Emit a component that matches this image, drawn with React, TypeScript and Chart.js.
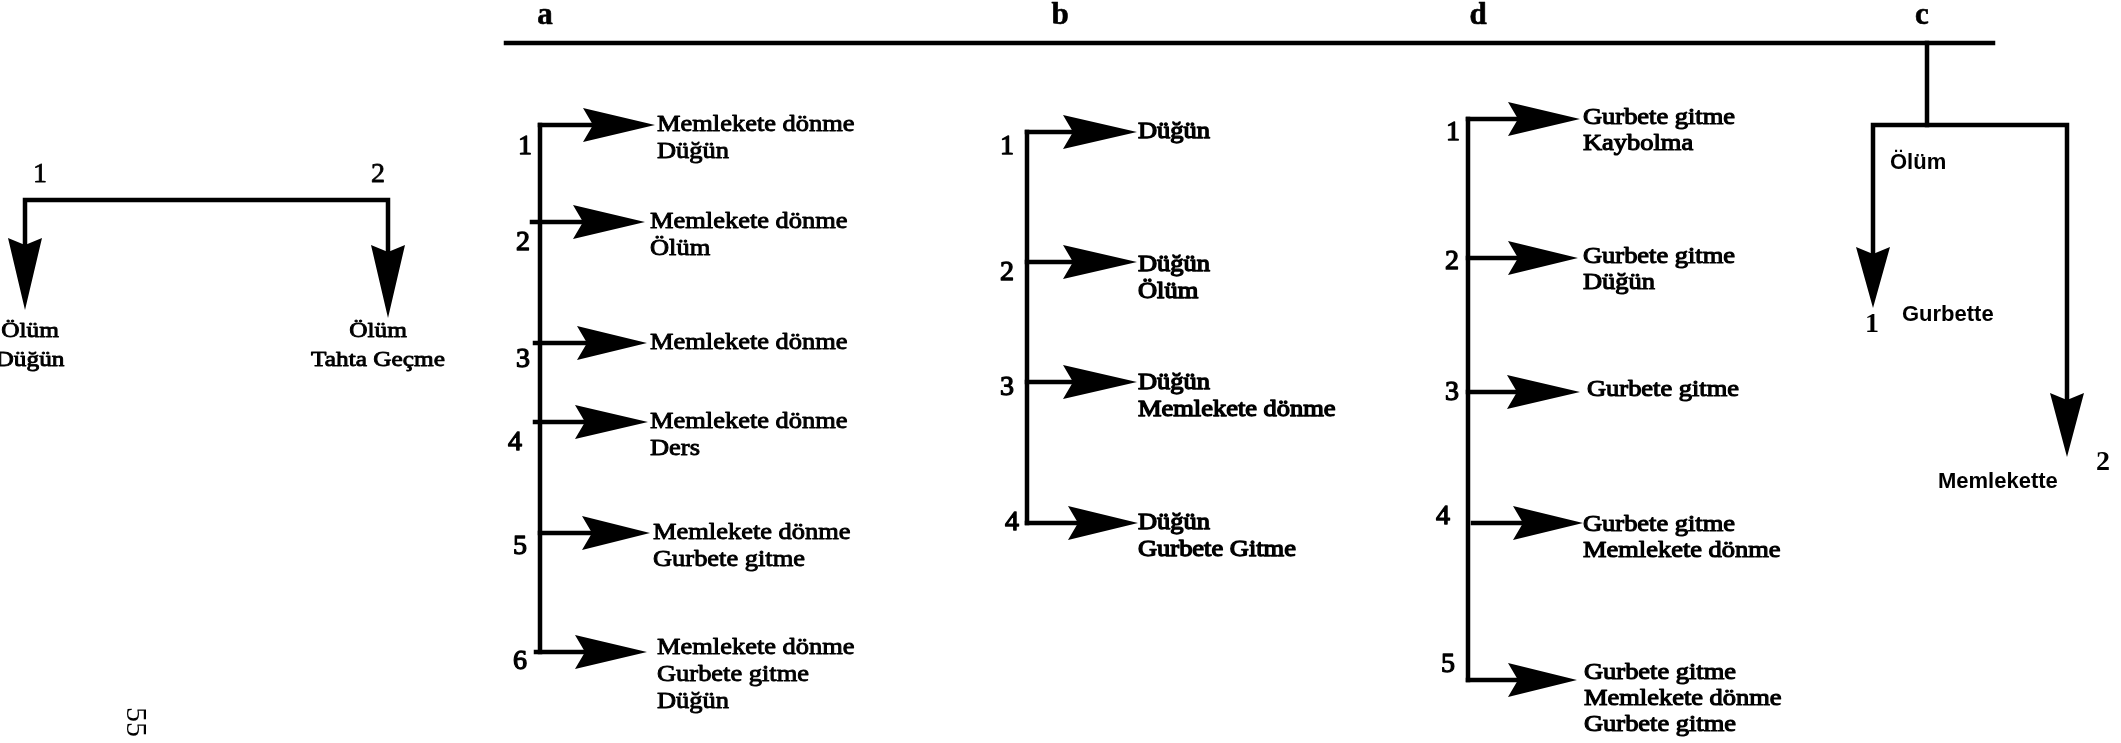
import React, { useEffect, useRef } from "react";
import { Chart, registerables } from "chart.js";

Chart.register(...registerables);

const W = 2121;
const H = 743;

const SERIF = "'Liberation Serif', 'Times New Roman', serif";
const SANS = "'Liberation Sans', Arial, sans-serif";

// ---- header ----
const HEADER_LABELS = ["a", "b", "d", "c"];
const HEADER_LABEL_X = [545, 1060, 1478, 1922];
const HEADER_LABEL_Y = 16;
const HEADER_LINE_X = [506, 1993];
const HEADER_LINE_Y = 43;

// ---- group a ----
const A_SPINE_X = 540;
const A_NUMS = ["1", "2", "3", "4", "5", "6"];
const A_BRANCH_Y = [125, 222, 343, 422, 533, 652];
const A_BRANCH_START_X = [540, 532, 535, 535, 540, 536];
const A_ARROW_BASE_X = [583, 573, 577, 575, 582, 575];
const A_ARROW_TIP_X = [655, 645, 647, 648, 650, 647];
const A_TEXT_X = [657, 650, 650, 650, 653, 657];
const A_TEXT_Y = [125, 222, 343, 422, 533, 648];
const A_NUM_X = [525, 523, 523, 515, 520, 520];
const A_NUM_Y = [147, 243, 360, 443, 547, 662];
const A_TEXTS = [
  ["Memlekete dönme", "Düğün"],
  ["Memlekete dönme", "Ölüm"],
  ["Memlekete dönme"],
  ["Memlekete dönme", "Ders"],
  ["Memlekete dönme", "Gurbete gitme"],
  ["Memlekete dönme", "Gurbete gitme", "Düğün"],
];

// ---- group b ----
const B_SPINE_X = 1027;
const B_NUMS = ["1", "2", "3", "4"];
const B_BRANCH_Y = [132, 262, 382, 523];
const B_BRANCH_START_X = [1027, 1027, 1027, 1027];
const B_ARROW_BASE_X = [1063, 1063, 1063, 1068];
const B_ARROW_TIP_X = [1137, 1137, 1137, 1138];
const B_TEXT_X = [1138, 1138, 1138, 1138];
const B_TEXT_Y = [132, 265, 383, 523];
const B_NUM_X = [1007, 1007, 1007, 1012];
const B_NUM_Y = [147, 273, 388, 523];
const B_TEXTS = [
  ["Düğün"],
  ["Düğün", "Ölüm"],
  ["Düğün", "Memlekete dönme"],
  ["Düğün", "Gurbete Gitme"],
];

// ---- group d ----
const D_SPINE_X = 1468;
const D_NUMS = ["1", "2", "3", "4", "5"];
const D_BRANCH_Y = [119, 258, 392, 523, 680];
const D_BRANCH_START_X = [1468, 1468, 1468, 1473, 1468];
const D_ARROW_BASE_X = [1508, 1508, 1507, 1513, 1508];
const D_ARROW_TIP_X = [1580, 1578, 1580, 1583, 1577];
const D_TEXT_X = [1583, 1583, 1587, 1583, 1584];
const D_TEXT_Y = [118, 257, 390, 525, 673];
const D_NUM_X = [1453, 1452, 1452, 1443, 1448];
const D_NUM_Y = [133, 262, 393, 517, 665];
const D_TEXTS = [
  ["Gurbete gitme", "Kaybolma"],
  ["Gurbete gitme", "Düğün"],
  ["Gurbete gitme"],
  ["Gurbete gitme", "Memlekete dönme"],
  ["Gurbete gitme", "Memlekete dönme", "Gurbete gitme"],
];

// ---- group c ----
const C_STEM_X = 1927;
const C_BAR_Y = 125;
const C_DROP_X = [1873, 2067];
const C_ARROW_BASE_Y = [247, 393];
const C_ARROW_TIP_Y = [308, 457];
const C_TEXTS = ["Ölüm", "Gurbette", "Memlekette"];
const C_TEXT_X = [1890, 1902, 1938];
const C_TEXT_Y = [163, 315, 482];
const C_NUMS = ["1", "2"];
const C_NUM_X = [1872, 2103];
const C_NUM_Y = [325, 463];

// ---- left group ----
const L_BAR_Y = 200;
const L_DROP_X = [25, 388];
const L_ARROW_BASE_Y = [238, 245];
const L_ARROW_TIP_Y = [310, 318];
const L_NUMS = ["1", "2"];
const L_NUM_X = [40, 378];
const L_NUM_Y = 175;
const L_TEXTS = [
  ["Ölüm", "Düğün"],
  ["Ölüm", "Tahta Geçme"],
];
const L_TEXT_X = [30, 378];
const L_TEXT_Y = 331;

// ---- page number ----
const PAGE_NUMBER = "55";
const PAGE_NUMBER_X = 135;
const PAGE_NUMBER_Y = 722;

type Pt = { x: number; y: number };
type Arrow = { bx: number; by: number; tx: number; ty: number; half: number; notch: number };
type Label = {
  text: string;
  x: number;
  y: number;
  font: string;
  align: CanvasTextAlign;
  stretch: number;
  rotate?: number;
  stroke?: number;
};

const polylines: Pt[][] = [];
const arrows: Arrow[] = [];
const labels: Label[] = [];

function addBranchGroup(
  spineX: number,
  nums: string[],
  branchY: number[],
  startX: number[],
  baseX: number[],
  tipX: number[],
  textX: number[],
  textY: number[],
  numX: number[],
  numY: number[],
  texts: string[][],
  lineGap: number,
  textStroke: number
) {
  polylines.push([
    { x: spineX, y: branchY[0] },
    { x: spineX, y: branchY[branchY.length - 1] },
  ]);
  branchY.forEach((y, i) => {
    polylines.push([
      { x: startX[i], y },
      { x: baseX[i] + 8, y },
    ]);
    arrows.push({ bx: baseX[i], by: y, tx: tipX[i], ty: y, half: 17, notch: 10 });
    labels.push({
      text: nums[i],
      x: numX[i],
      y: numY[i],
      font: `28px ${SERIF}`,
      align: "center",
      stretch: 1,
      stroke: 1.3,
    });
    texts[i].forEach((t, j) => {
      labels.push({
        text: t,
        x: textX[i],
        y: textY[i] + j * lineGap,
        font: `23px ${SERIF}`,
        align: "left",
        stretch: 1.15,
        stroke: textStroke,
      });
    });
  });
}

// header
polylines.push([
  { x: HEADER_LINE_X[0], y: HEADER_LINE_Y },
  { x: HEADER_LINE_X[1], y: HEADER_LINE_Y },
]);
HEADER_LABELS.forEach((t, i) =>
  labels.push({
    text: t,
    x: HEADER_LABEL_X[i],
    y: HEADER_LABEL_Y,
    font: `bold 31px ${SERIF}`,
    align: "center",
    stretch: 1,
    stroke: 0.6,
  })
);

addBranchGroup(A_SPINE_X, A_NUMS, A_BRANCH_Y, A_BRANCH_START_X, A_ARROW_BASE_X, A_ARROW_TIP_X, A_TEXT_X, A_TEXT_Y, A_NUM_X, A_NUM_Y, A_TEXTS, 27, 0.9);
addBranchGroup(B_SPINE_X, B_NUMS, B_BRANCH_Y, B_BRANCH_START_X, B_ARROW_BASE_X, B_ARROW_TIP_X, B_TEXT_X, B_TEXT_Y, B_NUM_X, B_NUM_Y, B_TEXTS, 27, 1.3);
addBranchGroup(D_SPINE_X, D_NUMS, D_BRANCH_Y, D_BRANCH_START_X, D_ARROW_BASE_X, D_ARROW_TIP_X, D_TEXT_X, D_TEXT_Y, D_NUM_X, D_NUM_Y, D_TEXTS, 26, 1.1);

// group c
polylines.push([
  { x: C_STEM_X, y: HEADER_LINE_Y },
  { x: C_STEM_X, y: C_BAR_Y },
]);
polylines.push([
  { x: C_DROP_X[0], y: C_ARROW_BASE_Y[0] + 6 },
  { x: C_DROP_X[0], y: C_BAR_Y },
  { x: C_DROP_X[1], y: C_BAR_Y },
  { x: C_DROP_X[1], y: C_ARROW_BASE_Y[1] + 6 },
]);
C_DROP_X.forEach((x, i) =>
  arrows.push({ bx: x, by: C_ARROW_BASE_Y[i], tx: x, ty: C_ARROW_TIP_Y[i], half: 17, notch: 7 })
);
C_TEXTS.forEach((t, i) =>
  labels.push({ text: t, x: C_TEXT_X[i], y: C_TEXT_Y[i], font: `bold 22px ${SANS}`, align: "left", stretch: 1 })
);
C_NUMS.forEach((t, i) =>
  labels.push({ text: t, x: C_NUM_X[i], y: C_NUM_Y[i], font: `bold 28px ${SERIF}`, align: "center", stretch: 1 })
);

// left group
polylines.push([
  { x: L_DROP_X[0], y: L_ARROW_BASE_Y[0] + 6 },
  { x: L_DROP_X[0], y: L_BAR_Y },
  { x: L_DROP_X[1], y: L_BAR_Y },
  { x: L_DROP_X[1], y: L_ARROW_BASE_Y[1] + 6 },
]);
L_DROP_X.forEach((x, i) =>
  arrows.push({ bx: x, by: L_ARROW_BASE_Y[i], tx: x, ty: L_ARROW_TIP_Y[i], half: 17, notch: 7 })
);
L_NUMS.forEach((t, i) =>
  labels.push({ text: t, x: L_NUM_X[i], y: L_NUM_Y, font: `28px ${SERIF}`, align: "center", stretch: 1, stroke: 0.8 })
);
L_TEXTS.forEach((lines, i) =>
  lines.forEach((t, j) =>
    labels.push({
      text: t,
      x: L_TEXT_X[i],
      y: L_TEXT_Y + j * 29,
      font: `22px ${SERIF}`,
      align: "center",
      stretch: 1.15,
      stroke: 0.9,
    })
  )
);

labels.push({
  text: PAGE_NUMBER,
  x: PAGE_NUMBER_X,
  y: PAGE_NUMBER_Y,
  font: `30px ${SERIF}`,
  align: "center",
  stretch: 1,
  rotate: Math.PI / 2,
});

const diagramPlugin = {
  id: "diagramMarks",
  afterDatasetsDraw(chart: any) {
    const ctx: CanvasRenderingContext2D = chart.ctx;
    const xs = chart.scales.x;
    const ys = chart.scales.y;
    const px = (v: number) => xs.getPixelForValue(v);
    const py = (v: number) => ys.getPixelForValue(v);

    ctx.save();
    ctx.fillStyle = "#000";
    arrows.forEach((a) => {
      const bx = px(a.bx);
      const by = py(a.by);
      const tx = px(a.tx);
      const ty = py(a.ty);
      const dx = tx - bx;
      const dy = ty - by;
      const len = Math.hypot(dx, dy) || 1;
      const ux = dx / len;
      const uy = dy / len;
      const nx = -uy;
      const ny = ux;
      ctx.beginPath();
      ctx.moveTo(tx, ty);
      ctx.lineTo(bx + nx * a.half, by + ny * a.half);
      ctx.lineTo(bx + ux * a.notch, by + uy * a.notch);
      ctx.lineTo(bx - nx * a.half, by - ny * a.half);
      ctx.closePath();
      ctx.fill();
    });

    ctx.textBaseline = "middle";
    labels.forEach((l) => {
      ctx.save();
      ctx.translate(px(l.x), py(l.y));
      if (l.rotate) ctx.rotate(l.rotate);
      ctx.scale(l.stretch, 1);
      ctx.font = l.font;
      ctx.textAlign = l.align;
      ctx.fillStyle = "#000";
      ctx.fillText(l.text, 0, 0);
      if (l.stroke) {
        ctx.lineWidth = l.stroke;
        ctx.lineJoin = "round";
        ctx.strokeStyle = "#000";
        ctx.strokeText(l.text, 0, 0);
      }
      ctx.restore();
    });
    ctx.restore();
  },
};

export default function App() {
  const canvasRef = useRef<HTMLCanvasElement | null>(null);

  useEffect(() => {
    const canvas = canvasRef.current;
    if (!canvas) return;
    const chart = new Chart(canvas, {
      type: "scatter",
      data: {
        datasets: polylines.map((pts, i) => ({
          label: `path${i}`,
          data: pts,
          showLine: true,
          borderColor: "#000",
          backgroundColor: "#000",
          borderWidth: 4.5,
          borderCapStyle: "square",
          borderJoinStyle: "miter",
          pointRadius: 0,
          pointHoverRadius: 0,
          fill: false,
          tension: 0,
          clip: false,
        })) as any,
      },
      options: {
        animation: false,
        responsive: false,
        maintainAspectRatio: false,
        events: [],
        layout: { padding: 0 },
        plugins: {
          legend: { display: false },
          tooltip: { enabled: false },
          title: { display: false },
        },
        scales: {
          x: { type: "linear", min: 0, max: W, display: false },
          y: { type: "linear", min: 0, max: H, reverse: true, display: false },
        },
      },
      plugins: [diagramPlugin],
    });
    return () => chart.destroy();
  }, []);

  return (
    <div style={{ position: "absolute", left: 0, top: 0, width: W, height: H, background: "#fff" }}>
      <canvas ref={canvasRef} width={W} height={H} style={{ display: "block", width: W, height: H }} />
    </div>
  );
}
